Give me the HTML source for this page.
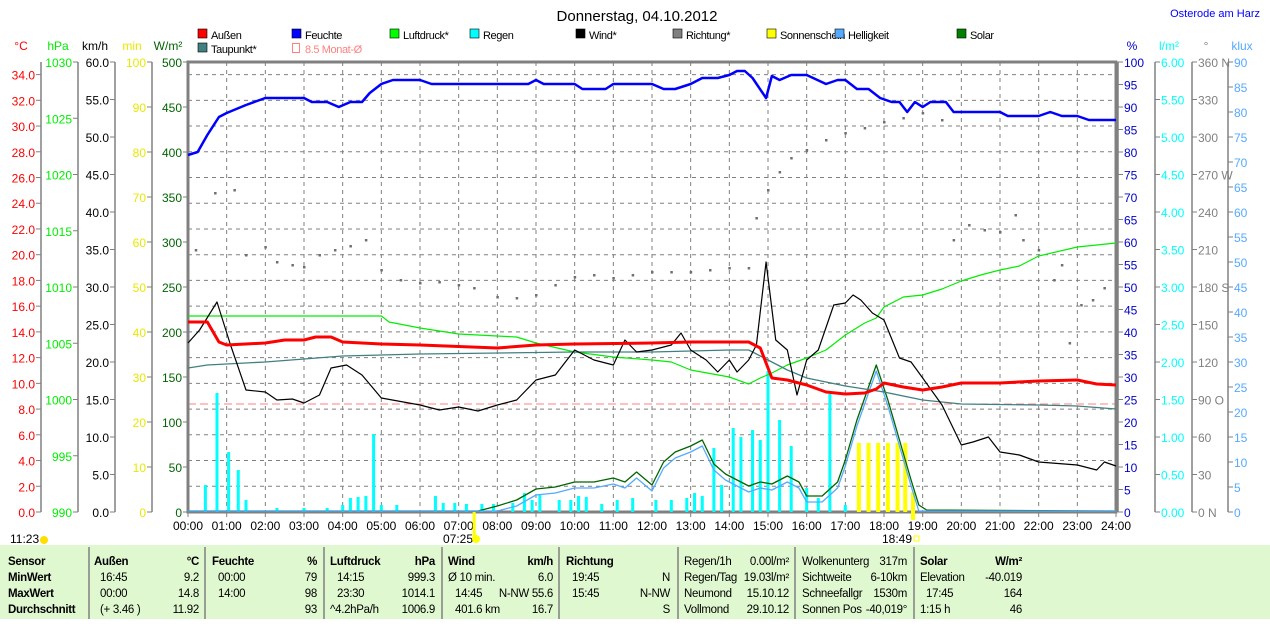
<!DOCTYPE html>
<html><head><meta charset="utf-8"><style>
body{margin:0;background:#fff;width:1270px;height:619px;overflow:hidden;font-family:"Liberation Sans",sans-serif}
svg text{font-family:"Liberation Sans",sans-serif;font-size:12px}
</style></head><body>
<svg id="s" width="1270" height="619" xmlns="http://www.w3.org/2000/svg">
<rect x="0" y="545" width="1270" height="74" fill="#e0f8d0"/>
<text x="637" y="21" text-anchor="middle" style="font-size:15px">Donnerstag, 04.10.2012</text>
<text x="1260" y="17" text-anchor="end" fill="#0000ff" style="font-size:11px">Osterode am Harz</text>
</svg>
<script>
const s=document.getElementById('s');const NS='http://www.w3.org/2000/svg';
function el(t,a,txt){const e=document.createElementNS(NS,t);for(const k in a)e.setAttribute(k,a[k]);if(txt!==undefined)e.textContent=txt;s.appendChild(e);return e;}
const X=h=>188+h*38.667;
const leg=[[198,38,'#ff0000','Außen'],[292,38,'#0000ff','Feuchte'],[390,38,'#00ff00','Luftdruck*'],[470,38,'#00ffff','Regen'],[576,38,'#000','Wind*'],[673,38,'#808080','Richtung*'],[767,38,'#ffff00','Sonnenschein'],[835,38,'#55aaff','Helligkeit'],[957,38,'#008000','Solar'],[198,52,'#408080','Taupunkt*']];
leg.forEach(l=>{el('rect',{x:l[0],y:l[1]-9,width:9,height:9,fill:l[2],stroke:'#000','stroke-width':0.6});el('text',{x:l[0]+13,y:l[1]+1,style:'font-size:11px;letter-spacing:-0.4px'},l[3]);});
el('rect',{x:292.5,y:43.5,width:7,height:9,fill:'none',stroke:'#ff8080'});el('text',{x:305,y:53,fill:'#ff8080',style:'font-size:11px;letter-spacing:-0.4px'},'8.5 Monat-Ø');
for(let h=1;h<24;h++)el('line',{x1:X(h),y1:62,x2:X(h),y2:512,stroke:'#808080','stroke-dasharray':'4,4'});
for(let k=1;k<18;k++){const y=512-k*25.73;el('line',{x1:188,y1:y,x2:1116,y2:y,stroke:'#808080','stroke-dasharray':'4,4'});}
el('line',{x1:188,y1:404,x2:1116,y2:404,stroke:'#ff8080','stroke-dasharray':'8,4'});
function axis(x,color,title,vals,left){el('line',{x1:x,y1:62,x2:x,y2:512,stroke:'#808080','stroke-width':1.5});
 el('text',{x:left?x-20:x+14,y:50,fill:color,'text-anchor':'middle'},title);
 vals.forEach(v=>{el('line',{x1:left?x-5:x,y1:v[0],x2:left?x:x+5,y2:v[0],stroke:'#808080'});el('text',{x:left?x-6:x+6,y:v[0]+5,fill:color,'text-anchor':left?'end':'start'},v[1]);});}
let a=[];for(let k=0;k<=17;k++)a.push([512-k*25.73,(2*k).toFixed(1)]);axis(41,'#ff0000','°C',a,true);
a=[];for(let k=0;k<=8;k++)a.push([512-k*56.25,990+5*k]);axis(78,'#00ee00','hPa',a,true);
a=[];for(let k=0;k<=12;k++)a.push([512-k*37.5,(5*k).toFixed(1)]);axis(115,'#000','km/h',a,true);
a=[];for(let k=0;k<=10;k++)a.push([512-k*45,10*k]);axis(152,'#e8e800','min',a,true);
a=[];for(let k=0;k<=10;k++)a.push([512-k*45,50*k]);axis(188,'#006400','W/m²',a,true);
a=[];for(let k=0;k<=20;k++)a.push([512-k*22.5,5*k]);axis(1118,'#0000cc','%',a,false);
a=[];for(let k=0;k<=12;k++)a.push([512-k*37.5,(0.5*k).toFixed(2)]);axis(1155,'#00ffff','l/m²',a,false);
const dn={0:'0  N',3:'90  O',6:'180 S',9:'270 W',12:'360 N'};
a=[];for(let k=0;k<=12;k++)a.push([512-k*37.5,dn[k]||String(30*k)]);axis(1192,'#808080','°',a,false);
a=[];for(let k=0;k<=18;k++)a.push([512-k*25,5*k]);axis(1228,'#55aaff','klux',a,false);
el('rect',{x:188,y:62,width:928,height:450,fill:'none',stroke:'#808080','stroke-width':3});
for(let h=0;h<=24;h++){el('line',{x1:X(h),y1:512,x2:X(h),y2:517,stroke:'#808080'});el('text',{x:X(h),y:530,'text-anchor':'middle'},(h<10?'0':'')+h+':00');}
el('text',{x:10,y:543},'11:23');el('circle',{cx:44,cy:540,r:4,fill:'#ffdd00'});
el('text',{x:443,y:543},'07:25');el('circle',{cx:476,cy:539,r:4,fill:'#ffff00'});
el('text',{x:882,y:543},'18:49');el('rect',{x:914,y:536,width:5,height:5,fill:'none',stroke:'#ffff00'});
const rain=[[0.45,485],[0.75,393],[1.05,452],[1.3,470],[1.5,500],[2.3,508],[3.0,508],[3.6,508],[4.0,505],[4.2,498],[4.4,497],[4.6,496],[4.8,434],[5.0,505],[5.4,505],[6.4,496],[6.6,503],[6.9,503],[7.2,504],[7.6,504],[7.9,504],[8.4,503],[8.7,493],[8.9,500],[9.1,494],[9.6,500],[9.9,500],[10.1,496],[10.3,497],[10.7,504],[11.1,500],[11.5,498],[12.1,500],[12.5,500],[12.9,498],[13.1,493],[13.3,496],[13.6,448],[13.8,485],[14.1,428],[14.3,437],[14.6,430],[14.8,440],[15.0,371],[15.3,420],[15.6,446],[16.0,488],[16.3,498],[16.6,394],[17.0,505]];
rain.forEach(r=>el('rect',{x:X(r[0])-1.5,y:r[1],width:3,height:512-r[1],fill:'#00ffff'}));
[17.35,17.6,17.85,18.1,18.35,18.55].forEach(h=>el('rect',{x:X(h)-2,y:443,width:4,height:69,fill:'#ffff00'}));
el('rect',{x:X(18.75)-2,y:492,width:4,height:28,fill:'#ffff00'});el('rect',{x:X(7.4)-1.5,y:512,width:3,height:28,fill:'#ffff00'});
function line(pts,c,w){el('polyline',{points:pts.map(p=>X(p[0])+','+p[1]).join(' '),fill:'none',stroke:c,'stroke-width':w,'stroke-linejoin':'round'});}
const sol=[[0,511],[7.5,511],[8,506],[8.5,500],[9,489],[9.5,487],[10,482],[10.5,482],[11,478],[11.3,482],[11.6,472],[12,485],[12.3,462],[12.6,452],[13,446],[13.3,440],[13.6,464],[13.9,474],[14.2,480],[14.5,486],[14.8,482],[15.1,484],[15.5,476],[15.8,482],[16,496],[16.4,496],[16.8,482],[17,460],[17.3,420],[17.8,365],[18.1,400],[18.4,440],[18.7,480],[18.9,505],[19.1,510],[24,511]];
line(sol,'#006400',1.3);line(sol.map(p=>[p[0],Math.min(511,p[1]+6)]),'#55aaff',1.3);
line([[0,316],[5,316],[5.2,322],[6,328],[7,334],[8.5,337],[9,343],[10,352],[11,357],[12,360],[12.5,362],[13,370],[14,377],[14.5,384],[14.8,378],[15.1,373],[15.5,365],[16,358],[16.5,350],[17,335],[17.5,323],[17.8,318],[18,307],[18.5,297],[19,295],[19.5,289],[20,281],[20.5,275],[21,270],[21.5,266],[22,256],[23,247],[24,243]],'#00ee00',1.2);
line([[0,368],[0.5,365],[2,362],[4,356],[6,354],[10,352],[12,352],[14,350],[14.5,350],[15,360],[15.5,370],[16,378],[17,386],[18,392],[19,400],[20,404],[22,405],[23,406],[24,409]],'#408080',1.3);
line([[0,343],[0.3,330],[0.75,302],[1.1,345],[1.5,390],[2,392],[2.3,400],[2.7,399],[3,403],[3.4,395],[3.7,368],[4.1,365],[4.5,375],[5,398],[6,405],[6.5,410],[7,407],[7.5,411],[8,405],[8.5,400],[9,380],[9.5,375],[10,350],[10.5,360],[11,365],[11.3,340],[11.6,352],[12,350],[12.5,345],[12.75,333],[13,350],[13.4,360],[13.7,372],[14,360],[14.2,372],[14.5,360],[14.7,345],[14.95,262],[15.2,340],[15.5,350],[15.75,395],[16,360],[16.3,350],[16.7,305],[17,303],[17.2,295],[17.4,300],[17.7,313],[18,320],[18.4,358],[18.7,362],[19,378],[19.5,405],[20,445],[20.3,442],[20.7,437],[21,452],[21.5,455],[22,462],[23,465],[23.5,470],[23.7,462],[24,466]],'#000',1.2);
line([[0,155],[0.25,152],[0.5,135],[0.8,117],[1,113],[1.5,105],[2,98],[3,98],[3.2,102],[3.6,102],[3.9,107],[4.2,102],[4.5,102],[4.7,93],[5,84],[5.3,80],[6,80],[6.3,84],[8.8,84],[9,80],[9.2,84],[10,84],[10.2,89],[10.8,89],[11,84],[12,84],[12.3,89],[12.6,89],[13,84],[13.3,78],[13.7,78],[14,75],[14.2,71],[14.4,71],[14.6,78],[14.95,98],[15.1,76],[15.3,80],[15.6,75],[16,75],[16.5,84],[16.8,80],[17,80],[17.3,89],[17.6,89],[17.9,98],[18.2,102],[18.4,102],[18.6,112],[18.8,102],[19,107],[19.2,102],[19.6,102],[19.8,112],[21,112],[21.2,116],[22,116],[22.3,112],[22.6,116],[23,116],[23.3,120],[24,120]],'#0000ff',2.5);
line([[0,322],[0.5,322],[0.8,342],[1,345],[2,343],[2.5,340],[3,340],[3.3,337],[3.7,337],[4,342],[5,344],[6,345],[8,348],[9,345],[10,344],[12,343],[13,342],[14.5,342],[14.8,348],[15.1,378],[15.5,380],[16,385],[16.5,392],[17,394],[17.5,393],[17.8,389],[18,383],[18.5,387],[19,390],[19.5,387],[20,383],[21,383],[22,381],[23,380],[23.5,384],[24,385]],'#ff0000',3);
const d=[[0.2,250],[0.7,193],[1.2,190],[1.5,255],[2,247],[2.3,262],[2.7,265],[3,267],[3.4,255],[3.8,250],[4.2,246],[4.6,240],[5,270],[5.5,280],[6,283],[6.5,282],[7,285],[7.4,288],[8,297],[8.5,298],[9,295],[9.5,285],[10,277],[10.5,275],[11,278],[11.5,275],[12,272],[12.5,272],[13,272],[13.5,270],[14,268],[14.5,268],[14.7,218],[15,190],[15.3,172],[15.6,158],[16,150],[16.5,140],[17,133],[17.5,128],[18,122],[18.5,118],[19,113],[19.5,120],[19.8,240],[20.2,225],[20.6,230],[21,232],[21.4,215],[21.6,240],[22,250],[22.4,280],[22.6,265],[22.8,343],[23.1,305],[23.4,300],[23.7,288]];
d.forEach(p=>el('rect',{x:X(p[0])-1,y:p[1]-1,width:2.5,height:2.5,fill:'#707070'}));
[89,205,324,442,559,678,795,914].forEach(x=>el('line',{x1:x,y1:547,x2:x,y2:619,stroke:'#808080','stroke-width':1.5}));
const R=[561,577,593,609];
function t(x,r,txt,b,end){el('text',{x:x,y:R[r]+4,'font-weight':b?'bold':'normal','text-anchor':end?'end':'start',style:'font-size:11.5px;letter-spacing:-0.3px'},txt);}
['Sensor','MinWert','MaxWert','Durchschnitt'].forEach((v,i)=>t(8,i,v,1));
t(94,0,'Außen',1);t(199,0,'°C',1,1);t(100,1,'16:45');t(199,1,'9.2',0,1);t(100,2,'00:00');t(199,2,'14.8',0,1);t(100,3,'(+ 3.46 )');t(199,3,'11.92',0,1);
t(212,0,'Feuchte',1);t(317,0,'%',1,1);t(218,1,'00:00');t(317,1,'79',0,1);t(218,2,'14:00');t(317,2,'98',0,1);t(317,3,'93',0,1);
t(330,0,'Luftdruck',1);t(435,0,'hPa',1,1);t(337,1,'14:15');t(435,1,'999.3',0,1);t(337,2,'23:30');t(435,2,'1014.1',0,1);t(330,3,'^4.2hPa/h');t(435,3,'1006.9',0,1);
t(448,0,'Wind',1);t(553,0,'km/h',1,1);t(448,1,'Ø 10 min.');t(553,1,'6.0',0,1);t(455,2,'14:45');t(553,2,'N-NW 55.6',0,1);t(455,3,'401.6 km');t(553,3,'16.7',0,1);
t(566,0,'Richtung',1);t(572,1,'19:45');t(670,1,'N',0,1);t(572,2,'15:45');t(670,2,'N-NW',0,1);t(670,3,'S',0,1);
t(684,0,'Regen/1h');t(789,0,'0.00l/m²',0,1);t(684,1,'Regen/Tag');t(789,1,'19.03l/m²',0,1);t(684,2,'Neumond');t(789,2,'15.10.12',0,1);t(684,3,'Vollmond');t(789,3,'29.10.12',0,1);
t(802,0,'Wolkenunterg');t(907,0,'317m',0,1);t(802,1,'Sichtweite');t(907,1,'6-10km',0,1);t(802,2,'Schneefallgr');t(907,2,'1530m',0,1);t(802,3,'Sonnen Pos');t(907,3,'-40,019°',0,1);
t(920,0,'Solar',1);t(1022,0,'W/m²',1,1);t(920,1,'Elevation');t(1022,1,'-40.019',0,1);t(926,2,'17:45');t(1022,2,'164',0,1);t(920,3,'1:15 h');t(1022,3,'46',0,1);
</script>
</body></html>
